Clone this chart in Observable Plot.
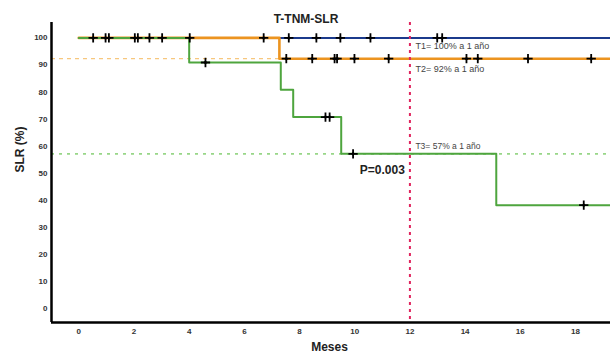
<!DOCTYPE html>
<html>
<head>
<meta charset="utf-8">
<script src="https://cdn.jsdelivr.net/npm/d3@7"></script>
<script src="https://cdn.jsdelivr.net/npm/@observablehq/plot@0.6"></script>
<style>
  html, body { margin: 0; padding: 0; background: #fff; }
  svg { display: block; }
</style>
</head>
<body>
<div id="chart"></div>
<script>
// Kaplan–Meier steps (months, survival %)
const groups = ["T1", "T2", "T3"];
const t1Times = [0];
const t1Surv = [100];
const t2Times = [0, 7.27];
const t2Surv = [100, 92.3];
const t3Times = [0, 4.0, 7.32, 7.77, 9.51, 15.13];
const t3Surv = [100, 90.9, 80.8, 70.7, 57.1, 38.1];
const followUpEnd = 19.3;

// censored observations (months)
const t1Censor = [0.52, 0.97, 1.09, 2.03, 7.61, 8.61, 9.48, 10.57, 12.99, 13.17];
const t2Censor = [2.14, 2.56, 4.02, 6.70, 7.52, 8.46, 9.27, 9.36, 9.99, 11.23, 14.05, 14.46, 16.28, 18.57];
const t3Censor = [3.02, 4.59, 8.94, 9.09, 9.94, 18.3];

// reference values
const landmarkMonth = 12;
const refT2 = 92.3;
const refT3 = 57.1;

// text
const title = "T-TNM-SLR";
const xLabel = "Meses";
const yLabel = "SLR (%)";
const labelT1 = "T1= 100% a 1 año";
const labelT2 = "T2= 92% a 1 año";
const labelT3 = "T3= 57% a 1 año";
const pLabel = "P=0.003";
const xTicks = [0, 2, 4, 6, 8, 10, 12, 14, 16, 18];
const yTicks = [0, 10, 20, 30, 40, 50, 60, 70, 80, 90, 100];

const colors = {T1: "#1b3a8c", T2: "#ec9420", T3: "#4ea53e"};

function curve(name, times, surv) {
  const rows = times.map((t, i) => ({group: name, t, s: surv[i]}));
  rows.push({group: name, t: followUpEnd, s: surv[surv.length - 1]});
  return rows;
}
function survAt(times, surv, t) {
  let s = surv[0];
  for (let i = 0; i < times.length; i++) if (times[i] <= t) s = surv[i];
  return s;
}
const c1 = curve("T1", t1Times, t1Surv);
const c2 = curve("T2", t2Times, t2Surv);
const c3 = curve("T3", t3Times, t3Surv);
const censors = [
  ...t1Censor.map(t => ({group: "T1", t, s: survAt(t1Times, t1Surv, t)})),
  ...t2Censor.map(t => ({group: "T2", t, s: survAt(t2Times, t2Surv, t)})),
  ...t3Censor.map(t => ({group: "T3", t, s: survAt(t3Times, t3Surv, t)}))
];

const xDomain = [-0.99, 19.27];
const yDomain = [-5.3, 105.7];
const font = "Liberation Sans, Arial, sans-serif";

const chart = Plot.plot({
  width: 610,
  height: 362,
  marginLeft: 51,
  marginRight: 0,
  marginTop: 22,
  marginBottom: 40,
  style: {fontFamily: font, background: "#fff"},
  x: {domain: xDomain, ticks: xTicks, tickSize: 0, tickPadding: 6, label: null},
  y: {domain: yDomain, ticks: yTicks, tickSize: 0, tickPadding: 4, label: null},
  marks: [
    Plot.axisX({ticks: xTicks, tickSize: 0, tickPadding: 6, label: null, fontSize: 8, fontWeight: "bold", fill: "#333"}),
    Plot.axisY({ticks: yTicks, tickSize: 0, tickPadding: 4, label: null, fontSize: 8, fontWeight: "bold", fill: "#333"}),
    // reference lines
    Plot.ruleY([refT2], {x1: xDomain[0], x2: t2Times[1], stroke: "#f7c77e", strokeWidth: 1.2, strokeDasharray: "4,4"}),
    Plot.ruleY([refT3], {stroke: "#98d688", strokeWidth: 1.6, strokeDasharray: "3,5"}),
    // curves
    Plot.line(c1, {x: "t", y: "s", curve: "step-after", stroke: colors.T1, strokeWidth: 2}),
    Plot.line(c2, {x: "t", y: "s", curve: "step-after", stroke: colors.T2, strokeWidth: 2.6}),
    Plot.line(c3, {x: "t", y: "s", curve: "step-after", stroke: colors.T3, strokeWidth: 2}),
    // censor marks
    Plot.dot(censors, {x: "t", y: "s", symbol: "diamond2", r: 1.8, fill: "#000", stroke: "none"}),
    Plot.dot(censors, {x: "t", y: "s", symbol: "plus", r: 3.1, fill: "none", stroke: "#000", strokeWidth: 1.8}),
    // landmark
    Plot.ruleX([landmarkMonth], {stroke: "#e0245e", strokeWidth: 2, strokeDasharray: "3,4"}),
    // axes lines
    Plot.ruleX([xDomain[0]], {stroke: "#000", strokeWidth: 2.5}),
    Plot.ruleY([yDomain[0]], {stroke: "#000", strokeWidth: 2.5}),
    // annotations
    Plot.text([labelT1], {x: 12.2, y: 96.8, text: d => d, textAnchor: "start", fontSize: 9, fill: "#444"}),
    Plot.text([labelT2], {x: 12.2, y: 88.3, text: d => d, textAnchor: "start", fontSize: 9, fill: "#444"}),
    Plot.text([labelT3], {x: 12.2, y: 59.9, text: d => d, textAnchor: "start", fontSize: 8.5, fill: "#444"}),
    Plot.text([pLabel], {x: 11.0, y: 50.9, text: d => d, fontSize: 12, fontWeight: "bold", fill: "#222"}),
    // titles
    Plot.text([title], {frameAnchor: "top", dx: -25, dy: -8, text: d => d, fontSize: 12, fontWeight: "bold", fill: "#222"}),
    Plot.text([xLabel], {frameAnchor: "bottom", dx: -1.5, dy: 28, text: d => d, fontSize: 12, fontWeight: "bold", fill: "#222"}),
    Plot.text([yLabel], {frameAnchor: "left", dx: -31, rotate: -90, text: d => d, fontSize: 12, fontWeight: "bold", fill: "#222"})
  ]
});
document.getElementById("chart").appendChild(chart);
</script>
</body>
</html>
